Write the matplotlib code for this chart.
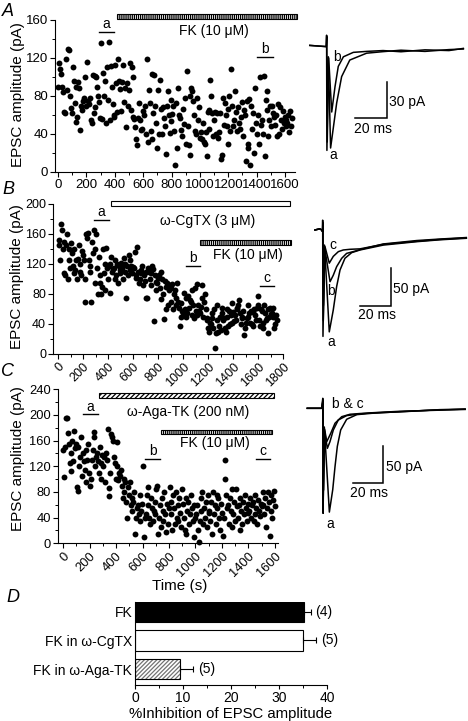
import matplotlib
matplotlib.use("Agg")
import matplotlib.pyplot as plt
import numpy as np
from matplotlib.patches import Rectangle
from matplotlib.ticker import MultipleLocator

plt.rcParams['font.family'] = ['Liberation Sans', 'DejaVu Sans']
plt.rcParams['hatch.linewidth'] = 0.9

# ---------------- data ----------------
# panel A: EPSC amplitude (pA), sampled every few seconds from 0 to 1650 s
amp_a = [
    89, 115, 108, 103, 90, 84, 63, 62, 119, 86, 129, 128, 80, 67, 62,
    110, 96, 73, 90, 53, 58, 95, 88, 44, 70, 65, 75, 78, 100, 70,
    116, 75, 72, 78, 55, 52, 102, 62, 101, 68, 100, 89, 80, 74, 57,
    136, 56, 104, 80, 96, 52, 110, 76, 137, 55, 112, 89, 72, 58, 60,
    113, 94, 63, 119, 96, 87, 64, 95, 113, 74, 88, 47, 94, 70, 86,
    115, 65, 110, 58, 100, 56, 47, 35, 28, 57, 73, 55, 44, 45, 64,
    60, 69, 40, 119, 32, 86, 73, 43, 35, 103, 62, 102, 70, 52, 25,
    86, 40, 97, 66, 40, 68, 57, 48, 19, 70, 85, 60, 41, 76, 54,
    61, 69, 43, 7, 73, 25, 88, 60, 57, 44, 38, 66, 51, 78, 30,
    106, 48, 28, 18, 80, 88, 85, 75, 60, 43, 40, 78, 55, 68, 36,
    42, 35, 52, 32, 29, 42, 17, 63, 45, 65, 97, 80, 62, 38, 55,
    63, 40, 62, 36, 42, 62, 14, 18, 78, 50, 73, 60, 48, 30, 66,
    80, 43, 108, 70, 48, 55, 85, 63, 43, 68, 52, 45, 58, 74, 38,
    65, 60, 12, 75, 30, 25, 77, 7, 70, 45, 62, 20, 88, 52, 40,
    60, 30, 100, 50, 55, 40, 101, 17, 76, 65, 85, 38, 55, 70, 48,
    70, 62, 58, 50, 60, 38, 72, 40, 68, 55, 45, 64, 52, 58, 48,
    55, 52, 60, 42, 64, 48, 57]
end_a = 1650

# panel B: 0 to 1750 s
amp_b = [
    152, 145, 125, 173, 165, 140, 108, 150, 106, 145, 160, 100, 125, 140, 115,
    148, 135, 118, 108, 140, 112, 125, 100, 127, 145, 110, 120, 105, 138, 132,
    125, 100, 70, 160, 155, 162, 125, 118, 110, 69, 150, 135, 165, 95, 140,
    160, 115, 80, 130, 105, 95, 80, 90, 140, 108, 85, 120, 142, 115, 100,
    117, 82, 120, 130, 110, 113, 115, 100, 125, 105, 120, 95, 118, 108, 112,
    122, 115, 100, 128, 110, 120, 75, 118, 105, 132, 112, 125, 117, 108, 116,
    115, 136, 105, 102, 143, 110, 95, 100, 108, 112, 118, 92, 105, 98, 75,
    110, 75, 115, 110, 100, 92, 108, 118, 113, 44, 105, 96, 85, 95, 102,
    105, 88, 110, 73, 100, 80, 47, 98, 90, 60, 95, 65, 85, 92, 70,
    88, 93, 60, 80, 85, 65, 75, 95, 70, 62, 38, 68, 50, 58, 55,
    82, 60, 50, 75, 55, 78, 62, 72, 70, 52, 85, 66, 48, 88, 58,
    52, 93, 65, 58, 55, 63, 75, 92, 50, 70, 80, 60, 45, 48, 35,
    30, 42, 40, 55, 48, 35, 60, 8, 28, 45, 65, 30, 38, 50, 32,
    55, 62, 45, 48, 35, 30, 60, 50, 38, 58, 40, 52, 68, 42, 56,
    44, 52, 45, 62, 60, 65, 72, 55, 40, 50, 48, 58, 25, 35, 42,
    48, 65, 50, 55, 42, 58, 40, 56, 38, 60, 52, 45, 62, 78, 66,
    45, 38, 60, 58, 35, 42, 65, 55, 45, 48, 28, 60, 50, 62, 53,
    55, 50, 62, 35, 40, 52, 45]
end_b = 1750

# panel C: 0 to 1600 s
amp_c = [
    145, 104, 150, 195, 196, 172, 155, 125, 113, 140, 160, 128, 175, 148, 155,
    88, 82, 150, 120, 135, 165, 105, 140, 128, 115, 95, 145, 130, 155, 110,
    90, 100, 130, 145, 173, 165, 120, 135, 140, 128, 110, 150, 100, 125, 138,
    120, 135, 95, 140, 130, 178, 74, 86, 110, 170, 165, 160, 135, 125, 100,
    158, 120, 98, 110, 105, 115, 90, 70, 80, 100, 95, 65, 40, 88, 75,
    95, 60, 70, 50, 65, 80, 15, 40, 55, 60, 45, 35, 75, 50, 62,
    120, 10, 40, 45, 75, 88, 60, 40, 30, 70, 55, 35, 50, 65, 45,
    85, 90, 15, 40, 60, 25, 70, 50, 35, 80, 45, 18, 62, 30, 55,
    88, 65, 45, 20, 75, 55, 30, 80, 40, 60, 35, 70, 48, 25, 85,
    62, 40, 20, 70, 15, 50, 65, 30, 45, 75, 55, 35, 10, 60, 40,
    45, 60, 20, 2, 35, 70, 50, 80, 30, 55, 40, 65, 25, 75, 48,
    50, 35, 65, 15, 80, 45, 60, 30, 75, 55, 70, 40, 20, 62, 48,
    12, 40, 130, 100, 75, 55, 60, 30, 70, 50, 25, 85, 45, 65, 35,
    85, 58, 40, 60, 20, 70, 50, 30, 65, 45, 75, 55, 35, 62, 48,
    50, 70, 40, 60, 65, 35, 75, 45, 55, 30, 68, 50, 42, 62, 58,
    80, 60, 45, 70, 25, 55, 80, 65, 12, 50, 75, 40, 68, 82, 58]
end_c = 1600

# example EPSC traces: (time ms, current pA)
tr_a_a = [(3, 0.5), (8, 0), (13.3, -0.5), (13.5, 9), (13.7, -87), (14.6, -9), (16.0, -85),
          (19.8, -47.5), (22.9, -25.5), (28, -11.7), (38.5, -6), (48.8, -4.7), (60, -3.5),
          (75, -4.5), (90, -3), (99, -2.5)]
tr_a_b = [(3, 0.5), (8, 0), (13.3, -0.5), (13.6, 8), (13.9, -80), (14.8, -10), (16.7, -55),
          (18.75, -34), (20.8, -17), (24, -9), (30.2, -5.3), (38.5, -4.5), (48.8, -3.8),
          (60, -4.8), (75, -3.2), (90, -3.8), (99, -2)]
tr_b_a = [(6.5, 0), (9.5, 1.5), (11, 0), (11.4, -2), (11.5, 13), (11.7, -141), (12.7, -20),
          (15.8, -135), (18.4, -106), (20.6, -75), (22.8, -53), (26, -37.5), (30.4, -30),
          (35.8, -26.5), (51, -20), (72.7, -15.5), (87.9, -13), (105, -11)]
tr_b_b = [(6.5, 0), (9.5, 1.5), (11, 0), (11.4, -2), (11.6, 10), (11.9, -120), (12.9, -25),
          (16.3, -68.5), (18.4, -60), (20.6, -48.6), (23.9, -37.5), (27.1, -31), (32.6, -28),
          (35.8, -26), (51, -18.5), (72.7, -14), (87.9, -12), (105, -10)]
tr_b_c = [(6.5, 0), (9.5, 1.5), (11, 0), (11.4, -2), (11.7, 8), (12.0, -100), (13.0, -22),
          (15.8, -44), (18.4, -35), (21.7, -28.7), (24.9, -26.5), (29.3, -25.6),
          (35.8, -25), (51, -19), (72.7, -15), (87.9, -12.5), (105, -10.5)]
tr_c_a = [(1.5, 0), (10.9, 0), (11.6, 13.4), (11.8, -140.7), (12.6, -25), (15.9, -139),
          (18.1, -109), (19.6, -78), (21.1, -51), (23.3, -29), (27.2, -14.7), (33.8, -8.5),
          (43.6, -6.7), (62, -4.5), (88, -2), (104.5, -1.3)]
tr_c_b = [(1.5, 0), (10.9, 0), (11.7, 11), (11.9, -120), (12.7, -30), (14.6, -53.6),
          (16.3, -44.7), (18.5, -29), (21.7, -15.7), (27.2, -9.8), (36, -7.5),
          (43.6, -6), (62, -4), (88, -2.5), (104.5, -1)]
tr_c_c = [(1.5, 0), (10.9, 0), (11.8, 10), (12.0, -110), (12.8, -28), (14.2, -44.7),
          (16.8, -33.5), (19.6, -20), (24, -11.2), (29.4, -8), (36, -7),
          (43.6, -6.2), (62, -4.8), (88, -1.8), (104.5, -1.5)]

# panel D
cond = ['FK', 'FK in \u03c9-CgTX', 'FK in \u03c9-Aga-TK']
inhib = [35.3, 35.0, 9.3]
inhib_err = [1.3, 2.8, 2.8]
n_cells = ['(4)', '(5)', '(5)']

W, H = 468, 721
fig = plt.figure(figsize=(W / 100, H / 100), dpi=100)


def axes_px(l, t, r, b):
    return fig.add_axes([l / W, 1 - b / H, (r - l) / W, (b - t) / H])


def style(ax, xmaj, xmin, ymaj, ymin, fs=9.5):
    for s in ['top', 'right']:
        ax.spines[s].set_visible(False)
    for s in ['left', 'bottom']:
        ax.spines[s].set_linewidth(0.8)
    ax.xaxis.set_major_locator(MultipleLocator(xmaj))
    ax.xaxis.set_minor_locator(MultipleLocator(xmin))
    ax.yaxis.set_major_locator(MultipleLocator(ymaj))
    ax.yaxis.set_minor_locator(MultipleLocator(ymin))
    ax.tick_params(which='major', direction='out', length=3.5, width=0.8, labelsize=fs, pad=1.5)
    ax.tick_params(which='minor', direction='out', length=2, width=0.7)


def drug_bar(ax, t0, t1, y0, y1, hatch=None, fc='white'):
    ax.add_patch(Rectangle((t0, y0), t1 - t0, y1 - y0, facecolor=fc, edgecolor='black',
                           lw=0.8, hatch=hatch, clip_on=False, zorder=3))


def period(ax, label, t0, t1, y_line, y_txt):
    ax.plot([t0, t1], [y_line, y_line], color='black', lw=1.0, clip_on=False)
    ax.text((t0 + t1) / 2, y_txt, label, ha='center', va='center', fontsize=10)


def scatter(ax, amps, t_end):
    t = np.linspace(3, t_end, len(amps))
    ax.scatter(t, amps, s=18, c='black', linewidths=0, zorder=2, clip_on=False)


# ---------------- panel A ----------------
ax_a = axes_px(55, 20, 295, 172)
scatter(ax_a, amp_a, end_a)
ax_a.set_xlim(-21, 1670)
ax_a.set_ylim(0, 160)
style(ax_a, 200, 100, 40, 20)
drug_bar(ax_a, 416, 1685, 161, 166, hatch='|' * 8)
ax_a.text(1100, 148, 'FK (10 \u03bcM)', ha='center', va='center', fontsize=10)
period(ax_a, 'a', 289, 395, 147, 156)
period(ax_a, 'b', 1403, 1516, 121, 129)

# ---------------- panel B ----------------
ax_b = axes_px(53, 204, 283, 354)
scatter(ax_b, amp_b, end_b)
ax_b.set_xlim(-42, 1800)
ax_b.set_ylim(0, 200)
style(ax_b, 200, 100, 40, 20, fs=9)
for lab in ax_b.get_xticklabels():
    lab.set_rotation(45)
    lab.set_ha('right')
    lab.set_rotation_mode('anchor')
drug_bar(ax_b, 422, 1854, 197, 203.5)
ax_b.text(1200, 177, '\u03c9-CgTX (3 \u03bcM)', ha='center', va='center', fontsize=10)
drug_bar(ax_b, 1134, 1862, 146, 152, hatch='|' * 8)
ax_b.text(1518, 132, 'FK (10 \u03bcM)', ha='center', va='center', fontsize=10)
period(ax_b, 'a', 286, 406, 179, 189)
period(ax_b, 'b', 1022, 1134, 117, 128)
period(ax_b, 'c', 1614, 1726, 91, 101)

# ---------------- panel C ----------------
ax_c = axes_px(58, 389.3, 278, 543.3)
scatter(ax_c, amp_c, end_c)
ax_c.set_xlim(-38, 1623)
ax_c.set_ylim(0, 240)
style(ax_c, 200, 100, 40, 20, fs=9.3)
for lab in ax_c.get_xticklabels():
    lab.set_rotation(45)
    lab.set_ha('right')
    lab.set_rotation_mode('anchor')
drug_bar(ax_c, 272, 1592, 226, 234, hatch='/' * 7)
ax_c.text(943, 205, '\u03c9-Aga-TK (200 nM)', ha='center', va='center', fontsize=10)
drug_bar(ax_c, 740, 1577, 170, 176, hatch='|' * 8)
ax_c.text(1147, 157, 'FK (10 \u03bcM)', ha='center', va='center', fontsize=10)
period(ax_c, 'a', 151, 264, 201, 212)
period(ax_c, 'b', 619, 732, 132, 144)
period(ax_c, 'c', 1457, 1562, 132, 144)

for xc, yc in [(18, 95), (17, 277), (18, 459)]:
    fig.text(xc / W, 1 - yc / H, 'EPSC amplitude (pA)', rotation=90, ha='center', va='center',
             fontsize=11)
fig.text(180 / W, 1 - 586 / H, 'Time (s)', ha='center', va='center', fontsize=11)


# ---------------- traces ----------------
def trace_axes(l, t, r, b, xlim, ylim):
    ax = axes_px(l, t, r, b)
    ax.set_xlim(*xlim)
    ax.set_ylim(*ylim)
    ax.axis('off')
    return ax


def draw_traces(ax, traces):
    for tr in traces:
        x, y = zip(*tr)
        ax.plot(x, y, color='black', lw=1.1, clip_on=False)


def scale_bar(ax, x0, y0, dx, dy, ylab, xlab):
    ax.plot([x0 - dx, x0, x0], [y0, y0, y0 + dy], color='black', lw=1.1,
            solid_joinstyle='miter', clip_on=False)
    ax.text(x0 + 1.5, y0 + dy * 0.45, ylab, ha='left', va='center', fontsize=10)
    ax.text(x0 - dx / 2 + 1, y0 - 3, xlab, ha='center', va='top', fontsize=10)


ta = trace_axes(305, 25, 468, 160, (0, 101.9), (-95, 17.5))
draw_traces(ta, [tr_a_a, tr_a_b])
scale_bar(ta, 51.25, -60, 20, 30, '30 pA', '20 ms')
ta.text(20, -9, 'b', ha='center', va='center', fontsize=10)
ta.text(17.5, -91, 'a', ha='center', va='center', fontsize=10)

tb = trace_axes(305, 205, 468, 345, (0, 106.1), (-152.4, 33.1))
draw_traces(tb, [tr_b_a, tr_b_b, tr_b_c])
scale_bar(tb, 55.8, -100.7, 20, 50, '50 pA', '20 ms')
tb.text(18.4, -20, 'c', ha='center', va='center', fontsize=10)
tb.text(16.9, -81, 'b', ha='center', va='center', fontsize=10)
tb.text(16.9, -148, 'a', ha='center', va='center', fontsize=10)

tc = trace_axes(305, 385, 468, 530, (0, 106.4), (-163, 31.2))
draw_traces(tc, [tr_c_a, tr_c_b, tr_c_c])
scale_bar(tc, 51.1, -100.5, 20, 50, '50 pA', '20 ms')
tc.text(17.6, 6, 'b & c', ha='left', va='center', fontsize=10)
tc.text(16.3, -155, 'a', ha='center', va='center', fontsize=10)

# ---------------- panel D ----------------
ax_d = axes_px(135, 601.7, 327, 685)
ypos = [2, 1, 0]
ax_d.barh(ypos[0], inhib[0], height=0.72, color='black', edgecolor='black', lw=0.8)
ax_d.barh(ypos[1], inhib[1], height=0.72, color='white', edgecolor='black', lw=0.8)
ax_d.barh(ypos[2], inhib[2], height=0.72, color='white', edgecolor='0.45', lw=0, hatch='/' * 8)
ax_d.barh(ypos[2], inhib[2], height=0.72, fill=False, edgecolor='black', lw=0.8)
ax_d.errorbar(inhib, ypos, xerr=[np.zeros(3), inhib_err], fmt='none', ecolor='black',
              elinewidth=0.8, capsize=2.5, capthick=0.8)
for v, e, y, lab in zip(inhib, inhib_err, ypos, n_cells):
    ax_d.text(v + e + 1.0, y, lab, ha='left', va='center', fontsize=10)
ax_d.set_xlim(0, 40)
ax_d.set_ylim(-0.56, 2.36)
for s in ['top', 'right']:
    ax_d.spines[s].set_visible(False)
for s in ['left', 'bottom']:
    ax_d.spines[s].set_linewidth(0.8)
ax_d.set_yticks(ypos)
ax_d.set_yticklabels(cond, fontsize=10)
ax_d.xaxis.set_major_locator(MultipleLocator(10))
ax_d.xaxis.set_minor_locator(MultipleLocator(5))
ax_d.tick_params(axis='y', length=0, pad=2)
ax_d.tick_params(axis='x', which='major', direction='out', length=3, width=0.8, labelsize=10, pad=1.5)
ax_d.tick_params(axis='x', which='minor', direction='out', length=1.8, width=0.7)
ax_d.set_xlabel('%Inhibition of EPSC amplitude', fontsize=10.7, labelpad=1)

# panel letters
for lab, x, y in [('A', 8, 11), ('B', 8, 189), ('C', 8, 371), ('D', 13, 598)]:
    fig.text(x / W, 1 - y / H, lab, ha='center', va='center', fontsize=13, style='italic')

fig.savefig('out.png', dpi=100)
